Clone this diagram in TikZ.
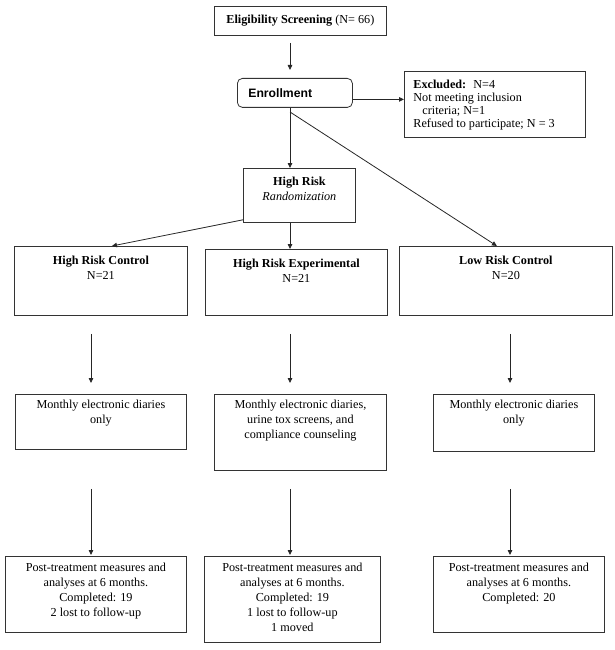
\documentclass[tikz,border=0pt]{standalone}
\usepackage{fontspec}
\setmainfont{Liberation Serif}
\newfontfamily\arialfont{Liberation Sans}
\usetikzlibrary{arrows.meta}
\usetikzlibrary{calc}

\newcommand{\flowtext}[4]{\parbox[c][#2][t]{#1}{\centering\vspace*{#3}\strut#4}}

\tikzset{
    flowbox/.style={draw=black!80, line width=0.8pt, anchor=north west, inner sep=0pt,
        font=\fontsize{12.2}{15}\selectfont},
    arr/.style={draw=black!85, line width=0.8pt, -{Triangle[length=5pt,width=4.5pt]}},
    plain/.style={draw=black!85, line width=0.8pt}
}

\begin{document}
\begin{tikzpicture}[x=1pt,y=-1pt]
    \useasboundingbox (0,0) rectangle (615,650);

    % columns of the arrows
    \coordinate (colA) at (91,0);
    \coordinate (colB) at (290,0);
    \coordinate (colC) at (510,0);

    \node[flowbox, minimum width=172pt, minimum height=29pt] (elig) at (214,6)
        {\textbf{Eligibility Screening} (N= 66)};
    \node[flowbox, rounded corners=5pt, minimum width=115pt, minimum height=29pt,
        inner xsep=11pt, text width=93pt, align=left] (enroll) at (237,78)
        {\arialfont\bfseries Enrollment};
    \node[flowbox, font=\fontsize{12.2}{13}\selectfont] (excl) at (404,71)
        {\parbox[c][66pt][t]{181pt}{\raggedright\leftskip=9pt\vspace*{8pt}\strut
        \textbf{Excluded:}~ N=4\\
        Not meeting inclusion\\
        \hspace*{9pt}criteria; N=1\\
        Refused to participate; N = 3}};

    \node[flowbox] (hr) at (243,168)
        {\flowtext{112pt}{54pt}{7pt}{\textbf{High Risk}\\\textit{Randomization}}};

    \node[flowbox] (hrc) at (14,246)
        {\flowtext{173pt}{69pt}{8pt}{\textbf{High Risk Control}\\N=21}};
    \node[flowbox] (hre) at (205,249)
        {\flowtext{182pt}{66pt}{8pt}{\textbf{High Risk Experimental}\\N=21}};
    \node[flowbox] (lrc) at (399,246)
        {\flowtext{213pt}{69pt}{8pt}{\textbf{Low Risk Control}\\N=20}};

    \node[flowbox] (md1) at (15,394)
        {\flowtext{171pt}{55pt}{4pt}{Monthly electronic diaries\\only}};
    \node[flowbox] (md2) at (214,394)
        {\flowtext{172pt}{76pt}{4pt}{Monthly electronic diaries,\\urine tox screens, and\\compliance counseling}};
    \node[flowbox] (md3) at (433,394)
        {\flowtext{161pt}{57pt}{4pt}{Monthly electronic diaries\\only}};

    \node[flowbox] (pt1) at (5,556)
        {\flowtext{181pt}{76pt}{5pt}{Post-treatment measures and\\analyses at 6 months.\\Completed: 19\\2 lost to follow-up}};
    \node[flowbox] (pt2) at (204,556)
        {\flowtext{176pt}{86pt}{5pt}{Post-treatment measures and\\analyses at 6 months.\\Completed: 19\\1 lost to follow-up\\1 moved}};
    \node[flowbox] (pt3) at (433,556)
        {\flowtext{171pt}{76pt}{5pt}{Post-treatment measures and\\analyses at 6 months.\\Completed: 20}};

    % top part
    \draw[arr, shorten <=7pt, shorten >=8pt] (colB |- elig.south) -- (colB |- enroll.north);
    \draw[arr] ([yshift=-6.5pt]enroll.east) -- ([yshift=-6.5pt]enroll.east -| excl.west);
    \coordinate (split) at (290,112);
    \draw[plain] (colB |- enroll.south) -- (split);
    \draw[arr] (split) -- (colB |- hr.north);
    \draw[arr] (split) -- ([xshift=-9pt]lrc.north);
    \draw[arr] ([yshift=3pt]hr.south west) -- ([xshift=11pt]hrc.north);
    \draw[arr] (colB |- hr.south) -- (colB |- hre.north);

    % columns
    \draw[arr, shorten <=18pt, shorten >=11pt] (colA |- hrc.south) -- (colA |- md1.north);
    \draw[arr, shorten <=18pt, shorten >=11pt] (colB |- hre.south) -- (colB |- md2.north);
    \draw[arr, shorten <=18pt, shorten >=11pt] (colC |- lrc.south) -- (colC |- md3.north);
    \draw[arr, shorten <=39pt, shorten >=1pt] (colA |- md1.south) -- (colA |- pt1.north);
    \draw[arr, shorten <=18pt, shorten >=1pt] (colB |- md2.south) -- (colB |- pt2.north);
    \draw[arr, shorten <=37pt, shorten >=1pt] (colC |- md3.south) -- (colC |- pt3.north);
\end{tikzpicture}
\end{document}
